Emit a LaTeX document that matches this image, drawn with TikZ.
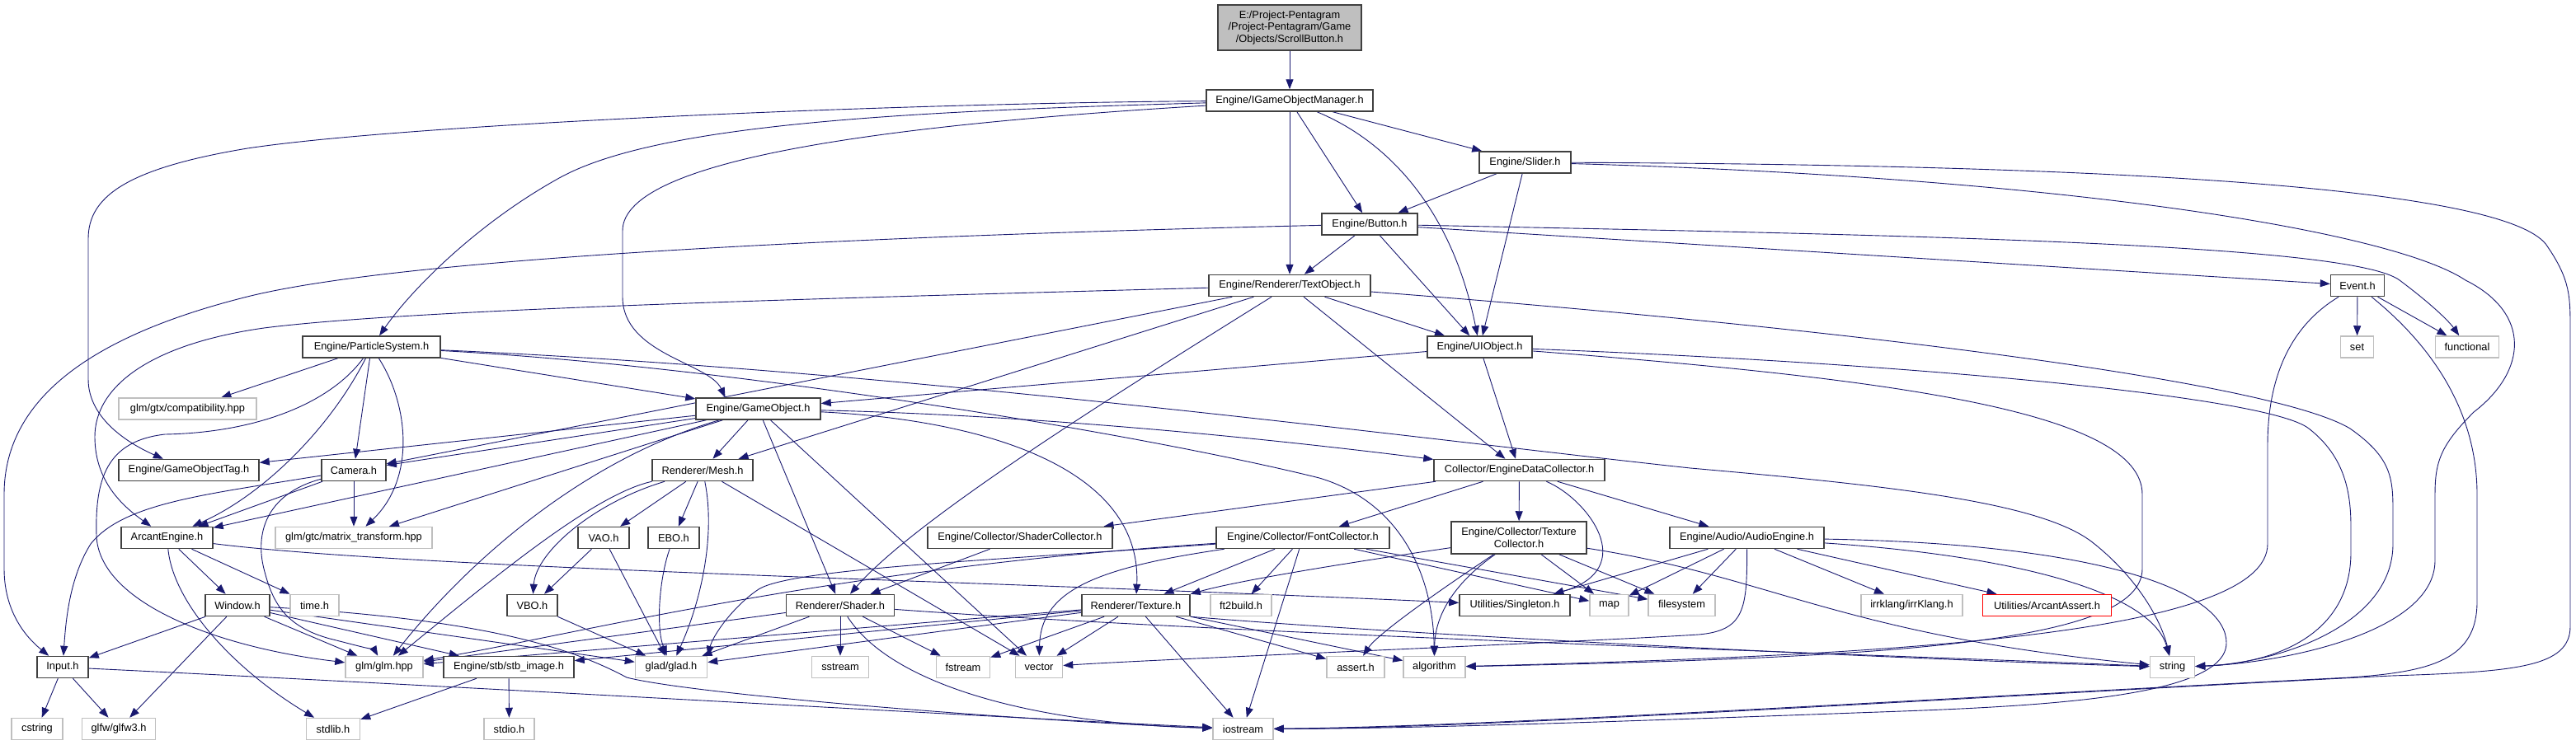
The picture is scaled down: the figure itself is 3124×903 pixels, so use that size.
\documentclass[tikz,border=0pt]{standalone}
\usepackage{fontspec}
\setmainfont{Liberation Sans}
\usetikzlibrary{arrows.meta}
\definecolor{edgeblue}{HTML}{191970}
\definecolor{docgray}{HTML}{404040}
\definecolor{sysgray}{HTML}{BFBFBF}
\definecolor{rootfill}{HTML}{BFBFBF}
\newcommand\dxfont{\fontsize{12.8pt}{14.5pt}\selectfont}
\pgfdeclarelayer{bg}
\pgfdeclarelayer{edges}
\pgfsetlayers{bg,edges,main}
\tikzset{
  box/.style={rectangle, inner sep=0pt, minimum height=26pt, line width=1.5pt, font=\dxfont, text=black, fill=white},
  doc/.style={box, draw=docgray},
  sys/.style={box, draw=sysgray},
  e/.style={draw=edgeblue, line width=0.9pt, -{Triangle[length=12pt,width=9pt]}}
}
\begin{document}
\begin{tikzpicture}[x=1pt,y=-1pt]
\begin{pgfonlayer}{bg}
\fill[white] (0,0) rectangle (3124,903);
\end{pgfonlayer}
\useasboundingbox (0,0) rectangle (3124,903);

% nodes
\node[doc, fill=rootfill, minimum width=174pt, minimum height=55pt, align=center] (root) at (1564,33.5) {E:/Project-Pentagram\\/Project-Pentagram/Game\\/Objects/ScrollButton.h};
\node[doc, minimum width=202pt] (igom) at (1564,122) {Engine/IGameObjectManager.h};
\node[doc, minimum width=111pt] (slider) at (1849.5,197) {Engine/Slider.h};
\node[doc, minimum width=116pt] (button) at (1661,272) {Engine/Button.h};
\node[doc, minimum width=196pt] (textobj) at (1564,346.5) {Engine/Renderer/TextObject.h};
\node[doc, minimum width=65pt] (event) at (2859,346.5) {Event.h};
\node[sys, minimum width=40pt] (set) at (2858.5,421) {set};
\node[sys, minimum width=77pt] (functional) at (2992,421) {functional};
\node[doc, minimum width=127pt] (uiobj) at (1794.5,421) {Engine/UIObject.h};
\node[doc, minimum width=167pt] (particle) at (450.5,421) {Engine/ParticleSystem.h};
\node[sys, minimum width=167pt] (compat) at (227.5,496) {glm/gtx/compatibility.hpp};
\node[doc, minimum width=151pt] (gameobj) at (919.5,496) {Engine/GameObject.h};
\node[doc, minimum width=170pt] (gotag) at (229,570.5) {Engine/GameObjectTag.h};
\node[doc, minimum width=78pt] (camera) at (429,570.5) {Camera.h};
\node[doc, minimum width=122pt] (mesh) at (852,570.5) {Renderer/Mesh.h};
\node[doc, minimum width=207pt] (edc) at (1842.5,570.5) {Collector/EngineDataCollector.h};
\node[doc, minimum width=111pt] (arcant) at (202.5,652.5) {ArcantEngine.h};
\node[sys, minimum width=190pt] (mtx) at (429,652.5) {glm/gtc/matrix\_transform.hpp};
\node[doc, minimum width=62pt] (vao) at (732,652.5) {VAO.h};
\node[doc, minimum width=62pt] (ebo) at (817,652.5) {EBO.h};
\node[doc, minimum width=224pt] (shadercol) at (1237,652.5) {Engine/Collector/ShaderCollector.h};
\node[doc, minimum width=210pt] (fontcol) at (1580,652.5) {Engine/Collector/FontCollector.h};
\node[doc, minimum width=164pt, minimum height=39pt, align=center] (texcol) at (1842,652.5) {Engine/Collector/Texture\\Collector.h};
\node[doc, minimum width=187pt] (audio) at (2118.5,652.5) {Engine/Audio/AudioEngine.h};
\node[doc, minimum width=78pt] (window) at (288,734.5) {Window.h};
\node[sys, minimum width=59pt] (time) at (381.5,734.5) {time.h};
\node[doc, minimum width=61pt] (vbo) at (645.5,734.5) {VBO.h};
\node[doc, minimum width=131pt] (shader) at (1019,734.5) {Renderer/Shader.h};
\node[doc, minimum width=131pt] (texture) at (1377.5,734.5) {Renderer/Texture.h};
\node[sys, minimum width=74pt] (ft2) at (1505,734.5) {ft2build.h};
\node[doc, minimum width=134pt] (singleton) at (1837,734.5) {Utilities/Singleton.h};
\node[sys, minimum width=47pt] (map) at (1951.5,734.5) {map};
\node[sys, minimum width=81pt] (filesystem) at (2039.5,734.5) {filesystem};
\node[sys, minimum width=123pt] (irrklang) at (2318.5,734.5) {irrklang/irrKlang.h};
\node[box, draw=red, minimum width=156pt] (assertA) at (2482.5,734.5) {Utilities/ArcantAssert.h};
\node[doc, minimum width=62pt] (input) at (76,809.5) {Input.h};
\node[sys, minimum width=94pt] (glm) at (466,809.5) {glm/glm.hpp};
\node[doc, minimum width=158pt] (stb) at (617,809.5) {Engine/stb/stb\_image.h};
\node[sys, minimum width=87pt] (glad) at (814,809.5) {glad/glad.h};
\node[sys, minimum width=69pt] (sstream) at (1019,809.5) {sstream};
\node[sys, minimum width=65pt] (fstream) at (1168,809.5) {fstream};
\node[sys, minimum width=57pt] (vector) at (1260,809.5) {vector};
\node[sys, minimum width=70pt] (asserth) at (1644,809.5) {assert.h};
\node[sys, minimum width=75pt] (algorithm) at (1739.5,809.5) {algorithm};
\node[sys, minimum width=54pt] (string) at (2634.5,809.5) {string};
\node[sys, minimum width=62pt] (cstring) at (45,884.5) {cstring};
\node[sys, minimum width=89pt] (glfw) at (144,884.5) {glfw/glfw3.h};
\node[sys, minimum width=65pt] (stdlib) at (404,884.5) {stdlib.h};
\node[sys, minimum width=61pt] (stdio) at (617.5,884.5) {stdio.h};
\node[sys, minimum width=73pt] (iostream) at (1507.5,884.5) {iostream};

\begin{pgfonlayer}{edges}
% root / manager
\draw[e] (root) -- (igom);
\draw[e] (igom) -- (slider);
\draw[e] (igom) -- (button);
\draw[e] (igom) -- (textobj);
\draw[e] (igom) .. controls (1680,170) and (1760,250) .. (uiobj);
\draw[e] (igom) .. controls (1100,125) and (500,150) .. (300,180) .. controls (150,205) and (107,240) .. (107,290) -- (107,460) .. controls (107,510) and (160,540) .. (gotag);
\draw[e] (igom) .. controls (1100,135) and (800,150) .. (680,215) .. controls (580,270) and (500,350) .. (particle);
\draw[e] (igom) .. controls (1100,150) and (755,190) .. (755,280) -- (755,360) .. controls (755,430) and (860,440) .. ([xshift=-40pt]gameobj.north);
% slider
\draw[e] (slider) -- (button);
\draw[e] (slider) -- (uiobj);
\draw[e] (slider) .. controls (2500,215) and (2900,280) .. (2990,340) .. controls (3070,380) and (3065,450) .. (3000,500) .. controls (2960,540) and (2953,560) .. (2953,600) -- (2953,680) .. controls (2953,770) and (2760,805) .. (string);
\draw[e] (slider) .. controls (2600,200) and (3050,230) .. (3090,300) .. controls (3117,340) and (3117,360) .. (3117,400) -- (3117,760) .. controls (3117,810) and (3050,815) .. (2900,820) .. controls (2400,845) and (1800,884) .. (iostream);
% button
\draw[e] (button) -- (textobj);
\draw[e] (button) -- (uiobj);
\draw[e] (button) .. controls (1100,285) and (500,310) .. (300,360) .. controls (100,410) and (5,490) .. (5,600) -- (5,690) .. controls (5,750) and (40,780) .. (input);
\draw[e] (button) -- (event);
\draw[e] (button) .. controls (2300,285) and (2850,295) .. (2910,340) .. controls (2950,370) and (2970,390) .. (functional);
% event
\draw[e] (event) -- (set);
\draw[e] (event) -- (functional);
\draw[e] (event) .. controls (2770,400) and (2750,470) .. (2750,540) -- (2750,660) .. controls (2750,770) and (2300,795) .. (algorithm);
\draw[e] (event) .. controls (2950,420) and (3004,500) .. (3004,600) -- (3004,730) .. controls (3004,800) and (2950,815) .. (2850,822) .. controls (2300,850) and (1800,882) .. (iostream);
% text object
\draw[e] (textobj) -- (uiobj);
\draw[e] (textobj) -- (edc);
\draw[e] (textobj) .. controls (1000,362) and (500,375) .. (320,398) .. controls (180,418) and (115,470) .. (115,530) .. controls (115,585) and (150,615) .. (arcant);
\draw[e] (textobj) -- (camera);
\draw[e] (textobj) -- (mesh);
\draw[e] (textobj) .. controls (1350,480) and (1110,630) .. (shader);
\draw[e] (textobj) .. controls (2200,395) and (2750,460) .. (2850,520) .. controls (2900,555) and (2902,580) .. (2902,620) -- (2902,660) .. controls (2902,760) and (2760,805) .. (string);
% ui object
\draw[e] (uiobj) -- (gameobj);
\draw[e] (uiobj) -- (edc);
\draw[e] (uiobj) .. controls (2300,440) and (2750,480) .. (2800,520) .. controls (2845,555) and (2851,600) .. (2851,640) -- (2851,670) .. controls (2851,770) and (2760,805) .. (string);
\draw[e] (uiobj) .. controls (2300,460) and (2598,500) .. (2598,600) -- (2598,690) .. controls (2598,780) and (2300,798) .. (algorithm);
% particle system
\draw[e] (particle) -- (compat);
\draw[e] (particle) -- (gameobj);
\draw[e] (particle) -- (camera);
\draw[e] (particle) .. controls (400,520) and (320,600) .. (arcant);
\draw[e] (particle) .. controls (495,490) and (505,580) .. (mtx);
\draw[e] (particle) .. controls (400,490) and (310,525) .. (200,527) .. controls (130,535) and (115,580) .. (117,650) .. controls (120,730) and (260,785) .. (glm);
\draw[e] (particle) .. controls (1100,450) and (1700,530) .. (2050,568) .. controls (2300,590) and (2480,610) .. (2540,660) .. controls (2590,700) and (2620,750) .. (string);
\draw[e] (particle) .. controls (900,445) and (1400,530) .. (1600,580) .. controls (1700,610) and (1738,700) .. (algorithm);
% game object
\draw[e] (gameobj) -- (gotag);
\draw[e] (gameobj) -- (camera);
\draw[e] (gameobj) -- (arcant);
\draw[e] (gameobj) -- (mtx);
\draw[e] (gameobj) .. controls (700,560) and (560,690) .. (glm);
\draw[e] (gameobj) -- (mesh);
\draw[e] (gameobj) -- (shader);
\draw[e] (gameobj) -- (vector);
\draw[e] (gameobj) .. controls (1200,510) and (1385,570) .. (texture);
\draw[e] (gameobj) .. controls (1300,505) and (1600,540) .. (edc);
% camera
\draw[e] (camera) -- (arcant);
\draw[e] (camera) -- (mtx);
\draw[e] (camera) .. controls (320,600) and (310,650) .. (320,690) .. controls (330,730) and (345,760) .. (400,775) .. controls (440,785) and (455,790) .. (glm);
\draw[e] (camera) .. controls (250,600) and (150,610) .. (110,660) .. controls (85,700) and (80,750) .. (input);
% mesh
\draw[e] (mesh) -- (vao);
\draw[e] (mesh) .. controls (720,610) and (650,670) .. (vbo);
\draw[e] (mesh) -- (ebo);
\draw[e] (mesh) .. controls (868,650) and (850,730) .. (glad);
\draw[e] (mesh) .. controls (720,600) and (600,700) .. (glm);
\draw[e] (mesh) -- (vector);
% engine data collector
\draw[e] (edc) -- (shadercol);
\draw[e] (edc) -- (fontcol);
\draw[e] (edc) -- (texcol);
\draw[e] (edc) .. controls (1925,605) and (1990,690) .. (singleton);
\draw[e] (edc) -- (audio);
% arcant engine
\draw[e] (arcant) -- (window);
\draw[e] (arcant) -- (time);
\draw[e] (arcant) .. controls (210,730) and (280,810) .. (stdlib);
\draw[e] (arcant) .. controls (500,690) and (1200,705) .. (singleton);
% buffers
\draw[e] (vao) -- (vbo);
\draw[e] (vao) -- (glad);
\draw[e] (ebo) .. controls (800,700) and (795,760) .. (glad);
\draw[e] (vbo) -- (glad);
\draw[e] (shadercol) -- (shader);
% font collector
\draw[e] (fontcol) -- (texture);
\draw[e] (fontcol) -- (ft2);
\draw[e] (fontcol) .. controls (1320,690) and (1262,720) .. (vector);
\draw[e] (fontcol) -- (iostream);
\draw[e] (fontcol) .. controls (1200,680) and (960,690) .. (920,715) .. controls (890,735) and (865,770) .. (glad.north east);
\draw[e] (fontcol) .. controls (1000,690) and (700,770) .. (glm);
\draw[e] (fontcol) -- (map);
\draw[e] (fontcol) -- (filesystem);
% texture collector
\draw[e] (texcol) .. controls (1620,685) and (1500,705) .. (texture.north east);
\draw[e] (texcol) .. controls (1740,720) and (1670,770) .. (asserth);
\draw[e] (texcol) .. controls (1760,710) and (1740,750) .. (algorithm);
\draw[e] (texcol) -- (map);
\draw[e] (texcol) -- (filesystem);
\draw[e] (texcol) .. controls (2150,700) and (2230,770) .. (string);
% audio engine
\draw[e] (audio) -- (singleton);
\draw[e] (audio) -- (map);
\draw[e] (audio) -- (filesystem);
\draw[e] (audio) .. controls (2119,740) and (2115,765) .. (2060,770) .. controls (1900,780) and (1400,800) .. (vector);
\draw[e] (audio) -- (irrklang);
\draw[e] (audio) -- (assertA);
\draw[e] (audio) .. controls (2450,675) and (2610,720) .. (string);
\draw[e] (audio) .. controls (2560,660) and (2700,720) .. (2700,780) .. controls (2700,850) and (2450,858) .. (2250,865) .. controls (1900,878) and (1700,884) .. (iostream);
% window
\draw[e] (window) -- (input);
\draw[e] (window) -- (glfw);
\draw[e] (window) -- (glm);
\draw[e] (window) -- (stb);
\draw[e] (window) -- (glad);
\draw[e] (window) .. controls (600,752) and (700,790) .. (760,822) .. controls (850,845) and (1300,878) .. (iostream);
% input, stb
\draw[e] (input) -- (cstring);
\draw[e] (input) -- (glfw);
\draw[e] (input) .. controls (600,835) and (1200,870) .. (iostream);
\draw[e] (stb) -- (stdlib);
\draw[e] (stb) -- (stdio);
% shader
\draw[e] (shader) -- (glad);
\draw[e] (shader) -- (glm);
\draw[e] (shader) -- (sstream);
\draw[e] (shader) -- (fstream);
\draw[e] (shader) .. controls (1080,830) and (1250,878) .. (iostream);
\draw[e] (shader) .. controls (1500,770) and (2300,795) .. (string);
% texture
\draw[e] (texture) -- (glad);
\draw[e] (texture) -- (glm);
\draw[e] (texture) -- (stb);
\draw[e] (texture) -- (fstream);
\draw[e] (texture) -- (vector);
\draw[e] (texture) -- (iostream);
\draw[e] (texture) -- (asserth);
\draw[e] (texture) -- (algorithm);
\draw[e] (texture.south east) .. controls (1700,770) and (2300,800) .. (string);
\end{pgfonlayer}
\end{tikzpicture}
\end{document}
